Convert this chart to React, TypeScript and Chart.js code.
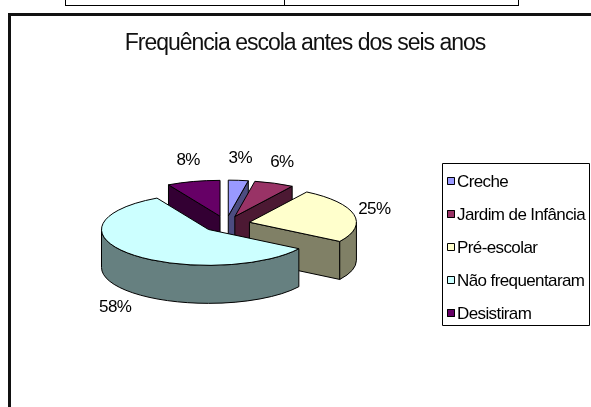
import React, { useEffect, useRef } from "react";
import { Chart, registerables } from "chart.js";

Chart.register(...registerables);

// Survey answers: did the child attend school before age six?
const categories = ["Creche", "Jardim de Infância", "Pré-escolar", "Não frequentaram", "Desistiram"];
const percentages = [3, 6, 25, 58, 8];
const faceColors = ["#9999FF", "#993366", "#FFFFCC", "#CCFFFF", "#660066"];
const sideColors = ["#4C4C80", "#4C1933", "#808066", "#668080", "#330033"];
const chartTitle = "Frequência escola antes dos seis anos";

const FONT = "'Liberation Sans', Arial, sans-serif";

// Draws the pie as an exploded, tilted 3D disc using the arcs laid out by Chart.js,
// plus the title, the outside percentage labels and a boxed legend.
const pie3d = {
  id: "pie3d",
  beforeDatasetsDraw(chart: any, _args: any, opts: any) {
    const ctx: CanvasRenderingContext2D = chart.ctx;
    const meta = chart.getDatasetMeta(0);
    const values: number[] = chart.data.datasets[0].data;
    const { tilt, depth, explode, labelRX, labelRY } = opts;

    const slices = meta.data.map((arc: any, i: number) => {
      const p = arc.getProps(["x", "y", "startAngle", "endAngle", "outerRadius"], true);
      const mid = (p.startAngle + p.endAngle) / 2;
      return {
        i,
        cx: p.x,
        cy: p.y,
        s: p.startAngle,
        e: p.endAngle,
        r: p.outerRadius,
        mid,
        sx: p.x + explode * Math.cos(mid),
        sy: p.y + explode * tilt * Math.sin(mid),
      };
    });

    // back-to-front so nearer slices overlap farther ones
    const order = [...slices].sort((a, b) => Math.sin(a.mid) - Math.sin(b.mid));

    ctx.save();
    ctx.lineWidth = 1;
    ctx.strokeStyle = "#000";
    ctx.lineJoin = "round";

    for (const sl of order) {
      const ry = sl.r * tilt;
      const px = (a: number) => sl.sx + sl.r * Math.cos(a);
      const py = (a: number) => sl.sy + ry * Math.sin(a);

      ctx.fillStyle = sideColors[sl.i];
      const radial = (a: number) => {
        ctx.beginPath();
        ctx.moveTo(sl.sx, sl.sy);
        ctx.lineTo(px(a), py(a));
        ctx.lineTo(px(a), py(a) + depth);
        ctx.lineTo(sl.sx, sl.sy + depth);
        ctx.closePath();
        ctx.fill();
        ctx.stroke();
      };
      if (Math.cos(sl.s) < -1e-6) radial(sl.s);
      if (Math.cos(sl.e) > 1e-6) radial(sl.e);

      const a0 = Math.max(sl.s, 0);
      const a1 = Math.min(sl.e, Math.PI);
      if (a1 > a0) {
        ctx.beginPath();
        ctx.ellipse(sl.sx, sl.sy, sl.r, ry, 0, a0, a1, false);
        ctx.lineTo(px(a1), py(a1) + depth);
        ctx.ellipse(sl.sx, sl.sy + depth, sl.r, ry, 0, a1, a0, true);
        ctx.closePath();
        ctx.fill();
        ctx.stroke();
      }

      ctx.fillStyle = faceColors[sl.i];
      ctx.beginPath();
      ctx.moveTo(sl.sx, sl.sy);
      ctx.ellipse(sl.sx, sl.sy, sl.r, ry, 0, sl.s, sl.e, false);
      ctx.closePath();
      ctx.fill();
      ctx.stroke();
    }

    // text in this sheet is set slightly condensed
    const tight = (px: number, spacing: string) => {
      ctx.font = `${px}px ${FONT}`;
      (ctx as any).letterSpacing = spacing;
    };

    // percentage labels around the pie
    ctx.fillStyle = "#000";
    tight(17, "-0.6px");
    ctx.textAlign = "left";
    ctx.textBaseline = "middle";
    for (const sl of slices) {
      const sn = Math.sin(sl.mid);
      const lx = sl.cx + labelRX * Math.cos(sl.mid);
      const ly = sl.cy + labelRY * sn + (sn > 0 ? depth : 0);
      const txt = `${values[sl.i]}%`;
      const w = ctx.measureText(txt).width;
      ctx.fillText(txt, lx - w / 2, ly);
    }

    // title
    const t = opts.title;
    tight(23, "-1px");
    ctx.textBaseline = "alphabetic";
    ctx.fillStyle = "#111";
    const tw = ctx.measureText(t.text).width;
    ctx.fillText(t.text, t.x - tw / 2, t.y);

    // legend
    const lg = opts.legend;
    (ctx as any).letterSpacing = "0px";
    ctx.lineWidth = 1;
    ctx.strokeStyle = "#000";
    ctx.strokeRect(lg.left + 0.5, lg.top + 0.5, lg.width, lg.height);
    chart.data.labels.forEach((label: string, i: number) => {
      const rowY = lg.firstRow + i * lg.rowGap;
      ctx.fillStyle = faceColors[i];
      ctx.fillRect(lg.left + 5, rowY - 4, 8, 8);
      ctx.strokeRect(lg.left + 5.5, rowY - 3.5, 7, 7);
    });
    tight(17, "-0.6px");
    ctx.textBaseline = "middle";
    ctx.fillStyle = "#000";
    chart.data.labels.forEach((label: string, i: number) => {
      const rowY = lg.firstRow + i * lg.rowGap;
      ctx.fillText(label, lg.left + 15, rowY + 1);
    });

    ctx.restore();
    return false;
  },
};

export default function App() {
  const canvasRef = useRef<HTMLCanvasElement | null>(null);

  useEffect(() => {
    const canvas = canvasRef.current;
    if (!canvas) return;
    const chart = new Chart(canvas, {
      type: "pie",
      data: {
        labels: categories,
        datasets: [
          {
            data: percentages,
            backgroundColor: faceColors,
            borderColor: "#000",
            borderWidth: 1,
            radius: 107,
          } as any,
        ],
      },
      options: {
        responsive: false,
        animation: false,
        events: [],
        layout: { padding: { left: 116, right: 255, top: 114, bottom: 73 } },
        plugins: {
          legend: { display: false },
          title: { display: false },
          tooltip: { enabled: false },
          pie3d: {
            tilt: 0.335,
            depth: 38,
            explode: 24,
            labelRX: 152,
            labelRY: 66,
            title: { text: chartTitle, x: 305, y: 50 },
            legend: { left: 442, top: 163, width: 147, height: 162, firstRow: 181, rowGap: 33 },
          },
        } as any,
      },
      plugins: [pie3d as any],
    });
    return () => chart.destroy();
  }, []);

  return (
    <div
      style={{
        position: "absolute",
        left: 0,
        top: 0,
        width: 591,
        height: 407,
        overflow: "hidden",
        background: "#fff",
      }}
    >
      {/* bottom edge of the table above the chart */}
      <div
        style={{
          position: "absolute",
          left: 65,
          top: -10,
          width: 454,
          height: 16,
          boxSizing: "border-box",
          border: "1px solid #000",
        }}
      />
      <div style={{ position: "absolute", left: 284, top: 0, width: 1, height: 6, background: "#000" }} />
      {/* chart frame */}
      <div
        style={{
          position: "absolute",
          left: 8,
          top: 13,
          width: 700,
          height: 500,
          boxSizing: "border-box",
          border: "3px solid #111",
        }}
      />
      <canvas
        ref={canvasRef}
        width={591}
        height={407}
        style={{ position: "absolute", left: 0, top: 0, width: 591, height: 407 }}
      />
    </div>
  );
}
